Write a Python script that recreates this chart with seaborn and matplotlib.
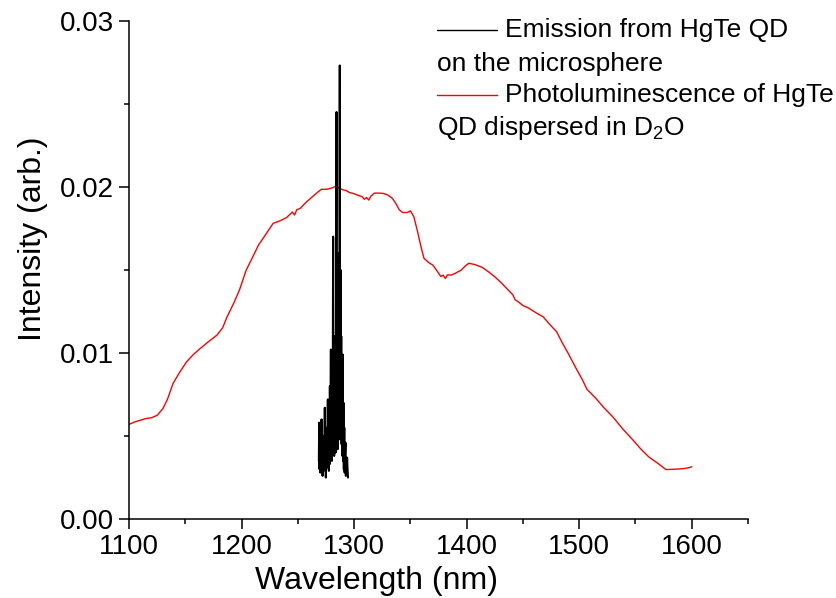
import numpy as np
import pandas as pd
import matplotlib
matplotlib.use('Agg')
import matplotlib.pyplot as plt
import seaborn as sns
from matplotlib.ticker import MultipleLocator

# Photoluminescence of HgTe QD dispersed in D2O (red)
pl_wl = [1100, 1105, 1110, 1115, 1120, 1125, 1130, 1134, 1139, 1145, 1151, 1157, 1163, 1170,
         1178, 1183, 1187, 1193, 1198, 1204, 1210, 1215, 1219, 1224, 1228, 1234, 1240, 1243,
         1245, 1247, 1249, 1252, 1257, 1262, 1268, 1271, 1276, 1281, 1284, 1287, 1290, 1293,
         1296, 1299, 1303, 1307, 1309, 1311, 1313, 1315, 1318, 1322, 1326, 1330, 1334, 1337,
         1340, 1343, 1347, 1350, 1353, 1356, 1359, 1362, 1366, 1370, 1374, 1377, 1379, 1381,
         1383, 1386, 1390, 1395, 1399, 1402, 1408, 1414, 1420, 1425, 1431, 1437, 1441, 1443,
         1446, 1450, 1455, 1462, 1468, 1474, 1480, 1485, 1490, 1497, 1503, 1507, 1510, 1515,
         1522, 1530, 1539, 1548, 1555, 1562, 1570, 1577, 1585, 1592, 1598, 1600]
pl_int = [0.00570, 0.00585, 0.00595, 0.00605, 0.00610, 0.00625, 0.00665, 0.00720, 0.00816,
          0.00885, 0.00946, 0.00990, 0.01026, 0.01065, 0.01107, 0.01150, 0.01217, 0.01300,
          0.01378, 0.01498, 0.01580, 0.01650, 0.01689, 0.01740, 0.01780, 0.01795, 0.01815,
          0.01835, 0.01848, 0.01830, 0.01862, 0.01870, 0.01905, 0.01935, 0.01970, 0.01985,
          0.01985, 0.01995, 0.02004, 0.01990, 0.01982, 0.01976, 0.01965, 0.01960, 0.01950,
          0.01940, 0.01925, 0.01935, 0.01920, 0.01945, 0.01962, 0.01962, 0.01960, 0.01950,
          0.01930, 0.01900, 0.01862, 0.01845, 0.01845, 0.01855, 0.01820, 0.01740, 0.01650,
          0.01570, 0.01545, 0.01528, 0.01490, 0.01460, 0.01468, 0.01448, 0.01470, 0.01468,
          0.01480, 0.01498, 0.01525, 0.01540, 0.01530, 0.01514, 0.01485, 0.01458, 0.01420,
          0.01378, 0.01350, 0.01320, 0.01307, 0.01285, 0.01270, 0.01240, 0.01217, 0.01170,
          0.01127, 0.01060, 0.01000, 0.00910, 0.00836, 0.00780, 0.00760, 0.00725, 0.00670,
          0.00614, 0.00540, 0.00474, 0.00420, 0.00373, 0.00335, 0.00298, 0.00300, 0.00303,
          0.00310, 0.00315]

# Emission from HgTe QD on the microsphere (black)
em_wl = [1268.6, 1268.9, 1269.2, 1269.5, 1269.8, 1270.1, 1270.4, 1270.7, 1271.0, 1271.3,
         1271.6, 1271.9, 1272.2, 1272.5, 1272.8, 1273.1, 1273.4, 1273.9, 1274.2, 1274.5,
         1274.8, 1275.1, 1275.4, 1275.7, 1276.0, 1276.6, 1276.9, 1277.2, 1277.5, 1277.8,
         1278.1, 1278.4, 1278.7, 1279.3, 1279.6, 1279.9, 1280.2, 1280.5, 1280.8, 1281.3,
         1281.6, 1281.9, 1282.2, 1282.5, 1282.8, 1283.1, 1283.5, 1284.3, 1284.6, 1284.9,
         1285.2, 1285.6, 1285.9, 1286.3, 1286.7, 1287.2, 1287.5, 1287.8, 1288.1, 1288.5,
         1288.8, 1289.1, 1289.5, 1289.8, 1290.1, 1290.5, 1290.8, 1291.2, 1291.5, 1291.9,
         1292.3, 1292.6, 1293.0, 1293.3, 1293.7, 1294.1, 1294.5]
em_int = [0.0035, 0.0058, 0.0030, 0.0045, 0.0028, 0.0052, 0.0032, 0.0040, 0.0060, 0.0030,
          0.0048, 0.0026, 0.0042, 0.0050, 0.0029, 0.0045, 0.0033, 0.0067, 0.0030, 0.0049,
          0.0025, 0.0043, 0.0036, 0.0055, 0.0031, 0.0072, 0.0034, 0.0050, 0.0029, 0.0060,
          0.0033, 0.0080, 0.0038, 0.0102, 0.0040, 0.0075, 0.0035, 0.0088, 0.0042, 0.0170,
          0.0045, 0.0095, 0.0038, 0.0110, 0.0048, 0.0085, 0.0040, 0.0245, 0.0050, 0.0120,
          0.0042, 0.0140, 0.0055, 0.0160, 0.0048, 0.0273, 0.0060, 0.0150, 0.0050, 0.0110,
          0.0045, 0.0095, 0.0038, 0.0099, 0.0035, 0.0070, 0.0030, 0.0055, 0.0028, 0.0040,
          0.0046, 0.0026, 0.0035, 0.0028, 0.0037, 0.0030, 0.0025]

pl = pd.DataFrame({'wl': pl_wl, 'I': pl_int})
em = pd.DataFrame({'wl': em_wl, 'I': em_int})

sns.set_style('ticks')
plt.rcParams['font.family'] = ['Liberation Sans', 'DejaVu Sans']
plt.rcParams['mathtext.fontset'] = 'custom'
plt.rcParams['mathtext.rm'] = 'Liberation Sans'
plt.rcParams['text.color'] = 'black'
plt.rcParams['axes.labelcolor'] = 'black'
plt.rcParams['axes.edgecolor'] = 'black'

fig = plt.figure(figsize=(8.36, 5.98), dpi=100)
ax = fig.add_axes([0.1545, 0.132, 0.7402, 0.8335])

sns.lineplot(data=pl, x='wl', y='I', color='#ff0000', lw=1.0, estimator=None, sort=False, ax=ax)
sns.lineplot(data=em, x='wl', y='I', color='black', lw=1.5, estimator=None, sort=False, ax=ax)

ax.set_xlim(1100, 1650)
ax.set_ylim(0, 0.03)
ax.xaxis.set_major_locator(MultipleLocator(100))
ax.xaxis.set_minor_locator(MultipleLocator(50))
ax.yaxis.set_minor_locator(MultipleLocator(0.005))
ax.set_yticks([0, 0.01, 0.02, 0.03])
ax.set_yticklabels(['0.00', '0.01', '0.02', '0.03'])

for s in ['top', 'right']:
    ax.spines[s].set_visible(False)
for s in ['left', 'bottom']:
    ax.spines[s].set_linewidth(1.1)
ax.tick_params(which='major', direction='out', length=7, width=1.1, labelsize=20, pad=4, colors='black')
ax.tick_params(which='minor', direction='out', length=3.5, width=1.1, colors='black')

ax.set_xlabel('Wavelength (nm)', fontsize=23, color='black')
ax.set_ylabel('Intensity (arb.)', fontsize=23, color='black')
ax.xaxis.set_label_coords(0.40, -0.094)
ax.yaxis.set_label_coords(-0.131, 0.563)

# legend drawn by hand: text wraps under the line sample
fs = 19
x0, x1, xt = 0.4976, 0.5945, 0.607
ax.plot([x0, x1], [0.981, 0.981], color='black', lw=1, transform=ax.transAxes, clip_on=False)
ax.text(xt, 0.981, 'Emission from HgTe QD', fontsize=fs, va='center', color='black', transform=ax.transAxes)
ax.text(x0, 0.913, 'on the microsphere', fontsize=fs, va='center', color='black', transform=ax.transAxes)
ax.plot([x0, x1], [0.850, 0.850], color='#ff0000', lw=1, transform=ax.transAxes, clip_on=False)
ax.text(xt, 0.850, 'Photoluminescence of HgTe', fontsize=fs, va='center', color='black', transform=ax.transAxes)
ax.text(x0, 0.784, r'QD dispersed in D$_2$O', fontsize=fs, va='center', color='black', transform=ax.transAxes)

fig.savefig('out.png', dpi=100)
